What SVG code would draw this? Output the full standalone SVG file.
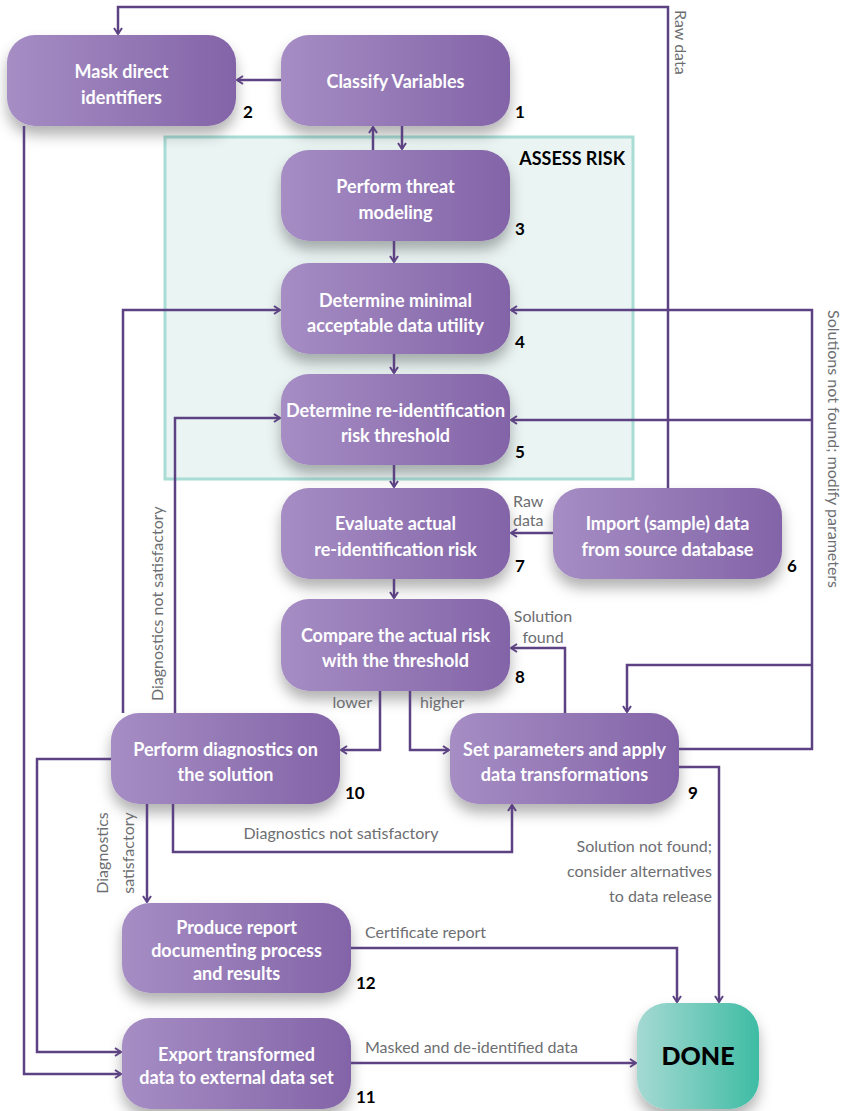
<svg xmlns="http://www.w3.org/2000/svg" width="843" height="1111" viewBox="0 0 843 1111">
<defs>
<linearGradient id="gp" x1="0" y1="0" x2="1" y2="0">
<stop offset="0" stop-color="#A68DC4"/><stop offset="1" stop-color="#8364A8"/>
</linearGradient>
<linearGradient id="gd" x1="0" y1="0" x2="1" y2="0">
<stop offset="0" stop-color="#A5D9D3"/><stop offset="1" stop-color="#3FBCA4"/>
</linearGradient>
<filter id="sh" x="-20%" y="-20%" width="140%" height="160%">
<feDropShadow dx="0" dy="9" stdDeviation="7" flood-color="#000" flood-opacity="0.3"/>
</filter>
<marker id="arr" viewBox="0 0 10 10" refX="9" refY="5" markerWidth="10" markerHeight="10" markerUnits="userSpaceOnUse" orient="auto">
<path d="M3,1 L9,5 L3,9" fill="none" stroke="#5C4283" stroke-width="2"/>
</marker>
<style>
.node{fill:url(#gp);filter:url(#sh)}
.nt{font-family:Lato,"Liberation Sans",sans-serif;font-weight:700;font-size:18px;fill:#fff;text-anchor:middle}
.num{font-family:Lato,"Liberation Sans",sans-serif;font-weight:700;font-size:17px;fill:#000}
.lbl{font-family:Lato,"Liberation Sans",sans-serif;font-weight:400;font-size:16px;fill:#6D6E71}
.c{fill:none;stroke:#5C4283;stroke-width:2.5}
.a{marker-end:url(#arr)}
</style>
</defs>
<rect width="843" height="1111" fill="#fff"/>

<g id="assess-risk">
<rect x="165" y="137" width="468" height="342" fill="#EAF4F3" stroke="#A8DCD4" stroke-width="3"/>
<text x="625" y="165" text-anchor="end" font-family="Lato,'Liberation Sans',sans-serif" font-weight="700" font-size="18" fill="#000">ASSESS RISK</text>
</g>

<g id="n2">
<rect class="node" x="7" y="35" width="229" height="91" rx="28"/>
<text class="nt" x="121.5" y="78">Mask direct</text>
<text class="nt" x="121.5" y="104">identifiers</text>
<text class="num" x="243" y="118">2</text>
</g>
<g id="n1">
<rect class="node" x="281" y="35" width="229" height="91" rx="28"/>
<text class="nt" x="395.5" y="88">Classify Variables</text>
<text class="num" x="515" y="118">1</text>
</g>
<g id="n3">
<rect class="node" x="281" y="150" width="229" height="91" rx="28"/>
<text class="nt" x="395.5" y="193">Perform threat</text>
<text class="nt" x="395.5" y="219">modeling</text>
<text class="num" x="515" y="235">3</text>
</g>
<g id="n4">
<rect class="node" x="281" y="263" width="229" height="91" rx="28"/>
<text class="nt" x="395.5" y="307">Determine minimal</text>
<text class="nt" x="395.5" y="332">acceptable data utility</text>
<text class="num" x="515" y="348">4</text>
</g>
<g id="n5">
<rect class="node" x="281" y="374" width="229" height="91" rx="28"/>
<text class="nt" x="395.5" y="417">Determine re-identification</text>
<text class="nt" x="395.5" y="442">risk threshold</text>
<text class="num" x="515" y="458">5</text>
</g>
<g id="n7">
<rect class="node" x="281" y="488" width="229" height="91" rx="28"/>
<text class="nt" x="395.5" y="530">Evaluate actual</text>
<text class="nt" x="395.5" y="556">re-identification risk</text>
<text class="num" x="515" y="572">7</text>
</g>
<g id="n6">
<rect class="node" x="553" y="488" width="229" height="91" rx="28"/>
<text class="nt" x="667.5" y="530">Import (sample) data</text>
<text class="nt" x="667.5" y="556">from source database</text>
<text class="num" x="787" y="572">6</text>
</g>
<g id="n8">
<rect class="node" x="281" y="599" width="229" height="92" rx="28"/>
<text class="nt" x="395.5" y="642">Compare the actual risk</text>
<text class="nt" x="395.5" y="667">with the threshold</text>
<text class="num" x="515" y="683">8</text>
</g>
<g id="n10">
<rect class="node" x="111" y="713" width="229" height="91" rx="28"/>
<text class="nt" x="225.5" y="756">Perform diagnostics on</text>
<text class="nt" x="225.5" y="781">the solution</text>
<text class="num" x="345" y="799">10</text>
</g>
<g id="n9">
<rect class="node" x="450" y="713" width="229" height="91" rx="28"/>
<text class="nt" x="564.5" y="756">Set parameters and apply</text>
<text class="nt" x="564.5" y="781">data transformations</text>
<text class="num" x="688" y="799">9</text>
</g>
<g id="n12">
<rect class="node" x="122" y="903" width="229" height="90" rx="28"/>
<text class="nt" x="236.5" y="934">Produce report</text>
<text class="nt" x="236.5" y="957">documenting process</text>
<text class="nt" x="236.5" y="980">and results</text>
<text class="num" x="356" y="989">12</text>
</g>
<g id="n11">
<rect class="node" x="122" y="1018" width="229" height="91" rx="28"/>
<text class="nt" x="236.5" y="1061">Export transformed</text>
<text class="nt" x="236.5" y="1084">data to external data set</text>
<text class="num" x="356" y="1103">11</text>
</g>
<g id="done">
<rect x="637" y="1003" width="122" height="106" rx="30" fill="url(#gd)" filter="url(#sh)"/>
<text x="698" y="1065" text-anchor="middle" font-family="Lato,'Liberation Sans',sans-serif" font-weight="900" font-size="25" fill="#000">DONE</text>
</g>

<g id="connectors">
<path class="c a" d="M668,488 V7 H118 V34"/>
<path class="c a" d="M281,80 H237"/>
<path class="c a" d="M373,150 V127"/>
<path class="c a" d="M402,126 V149"/>
<path class="c a" d="M394,241 V262"/>
<path class="c a" d="M394,354 V373"/>
<path class="c a" d="M394,465 V487"/>
<path class="c a" d="M394,579 V598"/>
<path class="c a" d="M553,533 H511"/>
<path class="c a" d="M380,691 V750 H341"/>
<path class="c a" d="M410,691 V750 H449"/>
<path class="c a" d="M565,713 V648 H511"/>
<path class="c a" d="M679,749 H812 V310 H511"/>
<path class="c a" d="M812,420 H511"/>
<path class="c a" d="M812,665 H627 V712"/>
<path class="c a" d="M679,767 H719 V1002"/>
<path class="c a" d="M175,713 V418 H280"/>
<path class="c a" d="M123,713 V310 H280"/>
<path class="c a" d="M173,804 V852 H512 V805"/>
<path class="c a" d="M147,804 V902"/>
<path class="c a" d="M111,759 H37 V1052 H121"/>
<path class="c a" d="M24,126 V1074 H121"/>
<path class="c a" d="M351,948 H677 V1002"/>
<path class="c a" d="M351,1063 H636"/>
</g>

<g id="labels">
<text class="lbl" transform="translate(675,10) rotate(90)">Raw data</text>
<text class="lbl" transform="translate(828,310) rotate(90)">Solutions not found; modify parameters</text>
<text class="lbl" transform="translate(163,701) rotate(-90)">Diagnostics not satisfactory</text>
<text class="lbl" text-anchor="middle" transform="translate(108,853) rotate(-90)">Diagnostics</text>
<text class="lbl" text-anchor="middle" transform="translate(134,853) rotate(-90)">satisfactory</text>
<text class="lbl" x="513" y="507">Raw</text>
<text class="lbl" x="513" y="526">data</text>
<text class="lbl" x="543" y="622" text-anchor="middle">Solution</text>
<text class="lbl" x="543" y="643" text-anchor="middle">found</text>
<text class="lbl" x="372" y="708" text-anchor="end">lower</text>
<text class="lbl" x="420" y="708">higher</text>
<text class="lbl" x="341" y="839" text-anchor="middle">Diagnostics not satisfactory</text>
<text class="lbl" x="712" y="852" text-anchor="end">Solution not found;</text>
<text class="lbl" x="712" y="877" text-anchor="end">consider alternatives</text>
<text class="lbl" x="712" y="902" text-anchor="end">to data release</text>
<text class="lbl" x="365" y="938">Certificate report</text>
<text class="lbl" x="365" y="1053">Masked and de-identified data</text>
</g>
</svg>
